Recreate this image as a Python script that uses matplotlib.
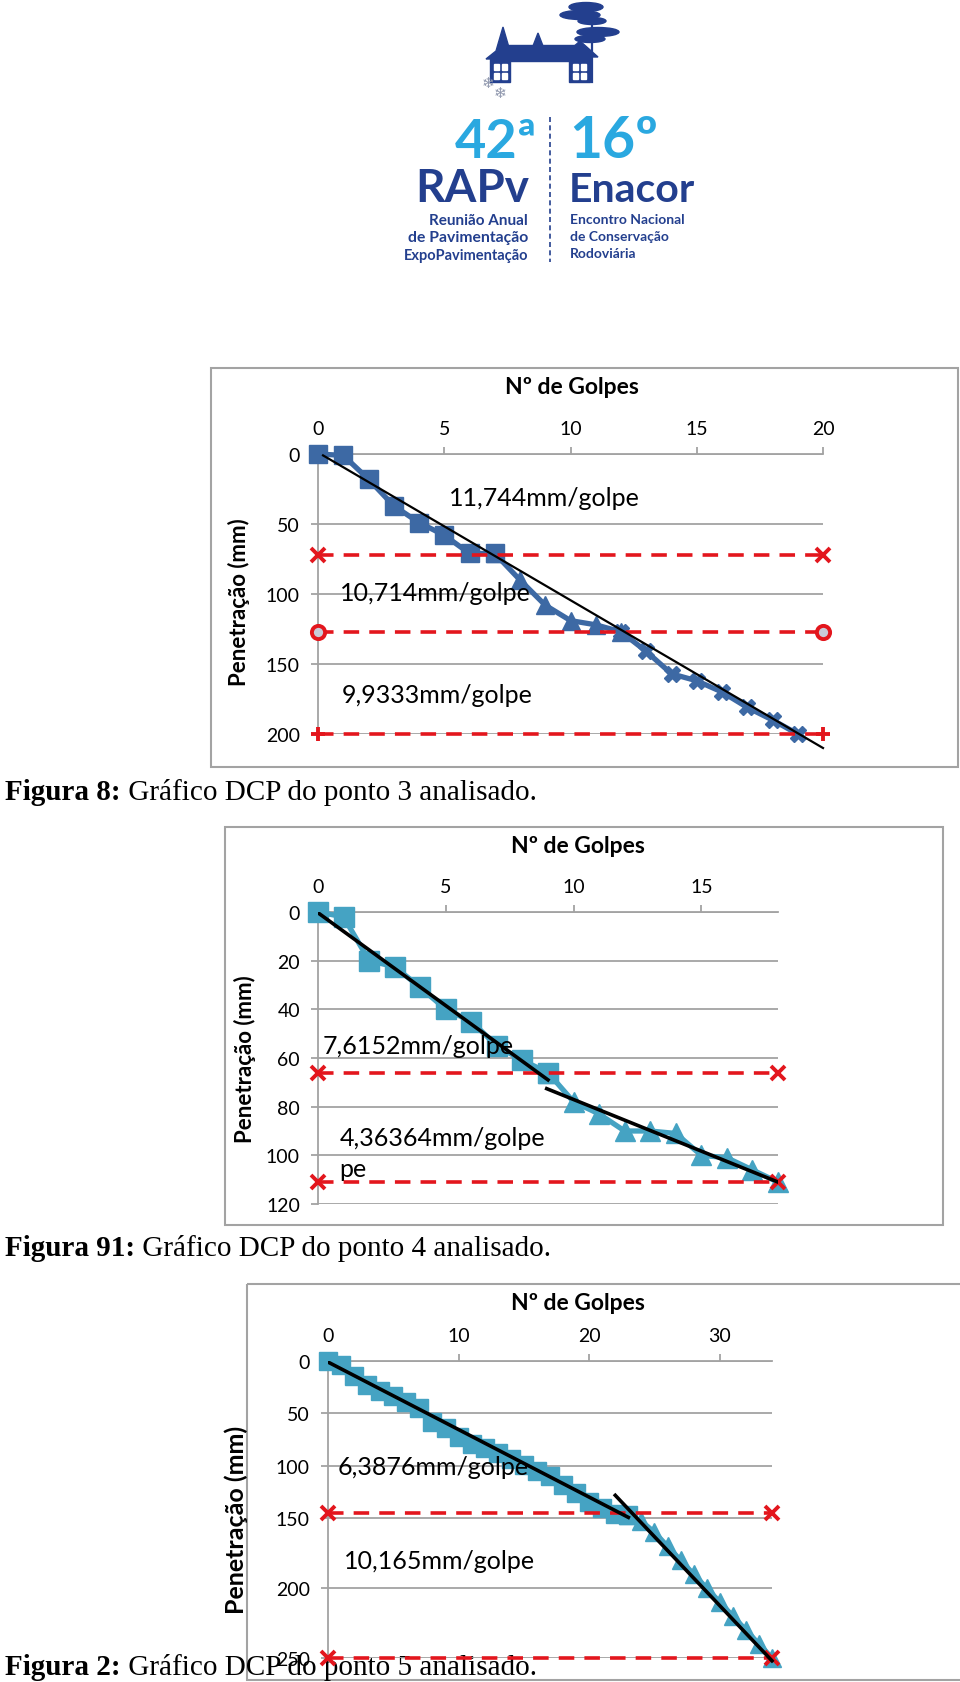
import numpy as np
import matplotlib
matplotlib.use("Agg")
import matplotlib.pyplot as plt
from matplotlib.patches import Rectangle, Polygon, Ellipse

plt.rcParams['font.family'] = ['Lato', 'DejaVu Sans']

W, H = 960, 1683

# ---------------- dados ----------------
# Figura 8 - ponto 3
p3_golpes_a = [0, 1, 2, 3, 4, 5, 6, 7]
p3_pen_a = [0, 1, 18, 37, 49, 58, 71, 71]
p3_golpes_b = [7, 8, 9, 10, 11, 12]
p3_pen_b = [71, 90, 108, 119, 122, 127]
p3_golpes_c = [12, 13, 14, 15, 16, 17, 18, 19]
p3_pen_c = [127, 141, 157, 162, 170, 181, 190, 200]
p3_camadas = [72, 127, 200]
p3_tend_x = [0.2, 20]
p3_tend_y = [1, 210]
p3_taxas = ["11,744mm/golpe", "10,714mm/golpe", "9,9333mm/golpe"]

# Figura 91 - ponto 4
p4_golpes_a = [0, 1, 2, 3, 4, 5, 6, 7, 8, 9]
p4_pen_a = [0, 2, 20, 22.5, 31, 40, 45, 55, 61, 66]
p4_golpes_b = [9, 10, 11, 12, 13, 14, 15, 16, 17, 18]
p4_pen_b = [66, 78, 83, 90, 90, 91, 100, 101, 106, 111]
p4_camadas = [66, 111]
p4_tend1_x = [0.05, 9.0]
p4_tend1_y = [0.7, 69]
p4_tend2_x = [8.95, 18]
p4_tend2_y = [72.6, 111]
p4_taxas = ["7,6152mm/golpe", "4,36364mm/golpe\npe"]

# Figura 2 - ponto 5
p5_golpes_a = list(range(0, 24))
p5_pen_a = [0, 4, 14, 23, 29, 33, 39, 45, 58, 64, 72, 79, 83, 88, 93, 99,
            105, 110, 118, 126, 134, 140, 146, 147]
p5_golpes_b = list(range(23, 35))
p5_pen_b = [147, 152, 160, 170, 180, 190, 200, 210, 220, 230, 240, 250]
p5_camadas = [145, 250]
p5_tend1_x = [0, 23]
p5_tend1_y = [1, 149]
p5_tend2_x = [22, 34]
p5_tend2_y = [128, 252]
p5_taxas = ["6,3876mm/golpe", "10,165mm/golpe"]

# ---------------- cores ----------------
CINZA = '#a3a3a3'
VERMELHO = '#e3161d'
AZUL1 = '#3d69a4'
AZUL2 = '#45a3c3'
AZUL_ESC = '#233f8e'
AZUL_CLARO = '#2aa8e0'

fig = plt.figure(figsize=(W / 100, H / 100), dpi=100)
bg = fig.add_axes([0, 0, 1, 1])
bg.set_xlim(0, W)
bg.set_ylim(H, 0)
bg.axis('off')


def eixo(x0, y0, x1, y1):
    return fig.add_axes([x0 / W, 1 - y1 / H, (x1 - x0) / W, (y1 - y0) / H])


def estilo(ax, xmax, xticks, ymax, yticks):
    ax.set_xlim(0, xmax)
    ax.set_ylim(ymax, 0)
    ax.set_xticks(xticks)
    ax.set_yticks(yticks)
    ax.xaxis.tick_top()
    ax.tick_params(axis='both', colors=CINZA, labelcolor='black',
                   labelsize=14, length=5, width=1.3)
    ax.tick_params(axis='x', pad=7)
    ax.tick_params(axis='y', pad=8)
    for lado in ['bottom', 'right']:
        ax.spines[lado].set_visible(False)
    for lado in ['top', 'left']:
        ax.spines[lado].set_color(CINZA)
        ax.spines[lado].set_linewidth(1.3)
    ax.grid(axis='y', color=CINZA, lw=1.3)
    ax.set_axisbelow(True)
    ax.patch.set_alpha(0)


def camada(ax, xmax, y, m):
    fc = '#c9cbd8' if m == 'o' else VERMELHO
    ax.plot([0, xmax], [y, y], color=VERMELHO, lw=2.6, dashes=(4.3, 2.8),
            marker=m, ms=9.5, mew=2.8, mfc=fc, mec=VERMELHO,
            clip_on=False, zorder=4)


def caixa(x0, y0, x1, y1):
    bg.add_patch(Rectangle((x0, y0), x1 - x0, y1 - y0, fill=False,
                           ec=CINZA, lw=1.5))


def titulos(tx, ty, lx, ly, tam_y=16):
    bg.text(tx, ty, "Nº de Golpes", fontsize=16.5, fontweight='bold',
            ha='center', va='center')
    bg.text(lx, ly, "Penetração (mm)", fontsize=tam_y, fontweight='bold',
            ha='center', va='center', rotation=90)


def legenda(y, negrito, resto):
    t = bg.text(5, y, negrito, fontfamily='Liberation Serif',
                fontweight='bold', fontsize=21, va='baseline', zorder=6)
    bg.annotate(resto, xy=(1, 0), xycoords=t, va='bottom', ha='left',
                fontfamily='Liberation Serif', fontsize=21, zorder=6)


# ---------------- logo ----------------
bg.add_patch(Polygon([(486, 60), (496, 52), (503, 28), (510, 52), (520, 60)],
                     color=AZUL_ESC))
bg.add_patch(Rectangle((490, 58), 20, 25, color=AZUL_ESC))
bg.add_patch(Rectangle((505, 46), 72, 16, color=AZUL_ESC))
bg.add_patch(Polygon([(533, 47), (538, 34), (543, 47)], color=AZUL_ESC))
bg.add_patch(Polygon([(562, 58), (580, 42), (598, 58)], color=AZUL_ESC))
bg.add_patch(Rectangle((569, 56), 21, 27, color=AZUL_ESC))
for (x, y) in [(494, 65), (502, 65), (494, 74), (502, 74),
               (573, 65), (581, 65), (573, 74), (581, 74)]:
    bg.add_patch(Rectangle((x, y), 5, 6, color='white'))
bg.plot([592, 592], [14, 83], color=AZUL_ESC, lw=1.6)
for (cx, cy, w, h) in [(586, 8, 34, 9), (580, 16, 40, 9), (592, 22, 28, 7),
                       (598, 33, 42, 9), (590, 40, 30, 7)]:
    bg.add_patch(Ellipse((cx, cy), w, h, color=AZUL_ESC))
bg.text(488, 83, "❄", fontfamily='DejaVu Sans', fontsize=11, color='#8f97ad',
        ha='center', va='center')
bg.text(500, 93, "❄", fontfamily='DejaVu Sans', fontsize=11, color='#8f97ad',
        ha='center', va='center')

bg.text(537, 158, "42ª", fontsize=39, fontweight='bold', color=AZUL_CLARO,
        ha='right', va='baseline')
bg.text(529, 202, "RAPv", fontsize=33, fontweight='bold', color=AZUL_ESC,
        ha='right', va='baseline')
bg.text(528, 225, "Reunião Anual", fontsize=11, fontweight='bold',
        color=AZUL_ESC, ha='right', va='baseline')
bg.text(528, 242, "de Pavimentação", fontsize=11.3, fontweight='bold',
        color=AZUL_ESC, ha='right', va='baseline')
bg.text(528, 260, "ExpoPavimentação", fontsize=10.5, fontweight='bold',
        color=AZUL_ESC, ha='right', va='baseline')
bg.plot([550, 550], [118, 263], color=AZUL_ESC, lw=1.2, dashes=(3, 2))
bg.text(569, 158, "16º", fontsize=41, fontweight='bold', color=AZUL_CLARO,
        ha='left', va='baseline')
bg.text(569, 202, "Enacor", fontsize=29.5, fontweight='bold', color=AZUL_ESC,
        ha='left', va='baseline')
bg.text(570, 224, "Encontro Nacional", fontsize=10, fontweight='bold',
        color=AZUL_ESC, ha='left', va='baseline')
bg.text(570, 241, "de Conservação", fontsize=10, fontweight='bold',
        color=AZUL_ESC, ha='left', va='baseline')
bg.text(570, 258, "Rodoviária", fontsize=10, fontweight='bold',
        color=AZUL_ESC, ha='left', va='baseline')

# ---------------- Figura 8 ----------------
caixa(211, 369, 958, 768)
titulos(572, 388, 239, 602)
ax1 = eixo(318, 455, 823, 735)
estilo(ax1, 20, [0, 5, 10, 15, 20], 200, [0, 50, 100, 150, 200])
ax1.plot(p3_golpes_a, p3_pen_a, color=AZUL1, lw=3.8, marker='s', ms=12.5,
         clip_on=False, zorder=3)
ax1.plot(p3_golpes_b, p3_pen_b, color=AZUL1, lw=3.8, marker='^', ms=12.5,
         clip_on=False, zorder=3)
ax1.plot(p3_golpes_c, p3_pen_c, color=AZUL1, lw=3.8, marker='X', ms=11,
         clip_on=False, zorder=3)
for y, m in zip(p3_camadas, ['x', 'o', '+']):
    camada(ax1, 20, y, m)
ax1.plot(p3_tend_x, p3_tend_y, color='black', lw=1.6, clip_on=False, zorder=5)
ax1.text(5.2, 31, p3_taxas[0], fontsize=18, va='center')
ax1.text(0.85, 99, p3_taxas[1], fontsize=18, va='center')
ax1.text(0.95, 172, p3_taxas[2], fontsize=18, va='center')
legenda(800, "Figura 8:", " Gráfico DCP do ponto 3 analisado.")

# ---------------- Figura 91 ----------------
caixa(225, 828, 943, 1226)
titulos(578, 847, 245, 1059)
ax2 = eixo(318, 913, 778, 1205)
estilo(ax2, 18, [0, 5, 10, 15], 120, [0, 20, 40, 60, 80, 100, 120])
ax2.plot(p4_golpes_a, p4_pen_a, color=AZUL2, lw=3.8, marker='s', ms=14,
         clip_on=False, zorder=3)
ax2.plot(p4_golpes_b, p4_pen_b, color=AZUL2, lw=3.8, marker='^', ms=14,
         clip_on=False, zorder=3)
for y in p4_camadas:
    camada(ax2, 18, y, 'x')
ax2.plot(p4_tend1_x, p4_tend1_y, color='black', lw=2.6, zorder=5)
ax2.plot(p4_tend2_x, p4_tend2_y, color='black', lw=2.6, zorder=5)
ax2.text(0.2, 55, p4_taxas[0], fontsize=18, va='center')
ax2.text(0.85, 99, p4_taxas[1], fontsize=18, va='center',
         linespacing=1.4)
legenda(1256, "Figura 91:", " Gráfico DCP do ponto 4 analisado.")

# ---------------- Figura 2 ----------------
# o eixo vertical do original é esticado abaixo de 150 mm
QUEBRA = 150
FATOR = 1.33


def estica(y):
    y = np.asarray(y, dtype=float)
    return np.where(y <= QUEBRA, y, QUEBRA + (y - QUEBRA) * FATOR)


def encolhe(v):
    v = np.asarray(v, dtype=float)
    return np.where(v <= QUEBRA, v, QUEBRA + (v - QUEBRA) / FATOR)


caixa(247, 1285, 962, 1681)
titulos(578, 1304, 236, 1520, tam_y=18)
ax3 = eixo(328, 1362, 772, 1659)
ax3.set_yscale('function', functions=(estica, encolhe))
estilo(ax3, 34, [0, 10, 20, 30], 250, [0, 50, 100, 150, 200, 250])
ax3.plot(p5_golpes_a, p5_pen_a, color=AZUL2, lw=3.8, marker='s', ms=12.5,
         clip_on=False, zorder=3)
ax3.plot(p5_golpes_b, p5_pen_b, color=AZUL2, lw=3.8, marker='^', ms=12.5,
         clip_on=False, zorder=3)
for y in p5_camadas:
    camada(ax3, 34, y, 'x')
ax3.plot(p5_tend1_x, p5_tend1_y, color='black', lw=2.6, zorder=5)
ax3.plot(p5_tend2_x, p5_tend2_y, color='black', lw=2.6, clip_on=False,
         zorder=5)
ax3.text(0.75, 101, p5_taxas[0], fontsize=18, va='center')
ax3.text(1.2, 180, p5_taxas[1], fontsize=18, va='center')
legenda(1675, "Figura 2:", " Gráfico DCP do ponto 5 analisado.")

fig.savefig("out.png", dpi=100, facecolor='white')
